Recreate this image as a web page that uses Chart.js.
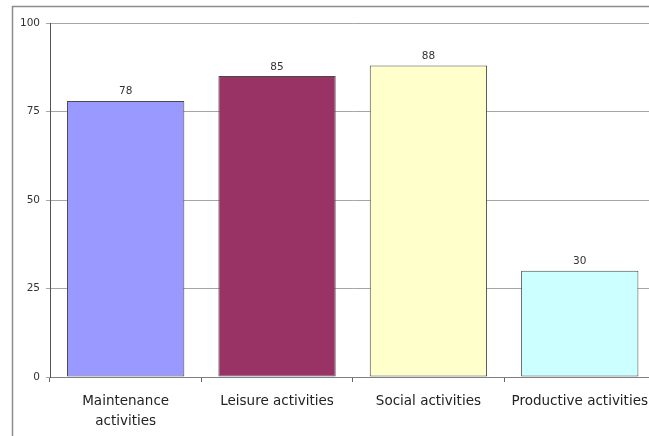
<!DOCTYPE html>
<html>
<head>
<meta charset="utf-8">
<script src="https://cdn.jsdelivr.net/npm/chart.js@4/dist/chart.umd.min.js"></script>
<style>
    html, body { margin: 0; padding: 0; background: #fff; overflow: hidden; }
    canvas { display: block; }
</style>
</head>
<body>
<canvas id="chart" width="658" height="436"></canvas>
<script>
const categories = [['Maintenance', 'activities'], 'Leisure activities', 'Social activities', 'Productive activities'];
const values = [78, 85, 88, 30];
const barColors = ['#9999ff', '#993366', '#ffffcc', '#ccffff'];
const yTicks = [0, 25, 50, 75, 100];

const font = 'DejaVu Sans';

// thin frame around the whole chart, open to the right and bottom
const framePlugin = {
    id: 'frame',
    beforeDraw(chart) {
        const ctx = chart.ctx;
        ctx.save();
        ctx.strokeStyle = '#8c8c8c';
        ctx.lineWidth = 1.5;
        ctx.beginPath();
        ctx.moveTo(12.5, chart.height);
        ctx.lineTo(12.5, 6.5);
        ctx.lineTo(chart.width, 6.5);
        ctx.stroke();
        ctx.restore();
    }
};

// value written above each bar
const valueLabels = {
    id: 'valueLabels',
    afterDatasetsDraw(chart) {
        const ctx = chart.ctx;
        const meta = chart.getDatasetMeta(0);
        ctx.save();
        ctx.font = '10.5px "' + font + '"';
        ctx.fillStyle = '#333';
        ctx.textAlign = 'center';
        ctx.textBaseline = 'bottom';
        meta.data.forEach((bar, i) => {
            ctx.fillText(String(values[i]), bar.x, bar.y - 4);
        });
        ctx.restore();
    }
};

new Chart(document.getElementById('chart'), {
    type: 'bar',
    data: {
        labels: categories,
        datasets: [{
            data: values,
            backgroundColor: barColors,
            borderColor: '#4a4a4a',
            borderWidth: 1,
            borderSkipped: false,
            barPercentage: 0.775,
            categoryPercentage: 1
        }]
    },
    options: {
        responsive: false,
        animation: false,
        layout: { padding: { top: 23, right: 0, bottom: 0, left: 0 } },
        plugins: {
            legend: { display: false },
            tooltip: { enabled: false }
        },
        scales: {
            x: {
                afterFit(scale) { scale.height = 59; },
                grid: {
                    display: true,
                    drawOnChartArea: false,
                    drawTicks: true,
                    tickLength: 5,
                    color: '#666'
                },
                border: { color: '#808080', width: 1 },
                ticks: {
                    color: '#222',
                    padding: 10,
                    maxRotation: 0,
                    autoSkip: false,
                    font: { family: font, size: 13.5, lineHeight: 1.45 }
                }
            },
            y: {
                min: 0,
                max: 100,
                afterFit(scale) { scale.width = 50; },
                afterBuildTicks(scale) { scale.ticks = yTicks.map(v => ({ value: v })); },
                grid: {
                    color: '#a6a6a6',
                    tickLength: 4,
                    lineWidth: 1
                },
                border: { color: '#555', width: 1 },
                ticks: {
                    color: '#333',
                    padding: 6,
                    font: { family: font, size: 10.5 }
                }
            }
        }
    },
    plugins: [framePlugin, valueLabels]
});
</script>
</body>
</html>
